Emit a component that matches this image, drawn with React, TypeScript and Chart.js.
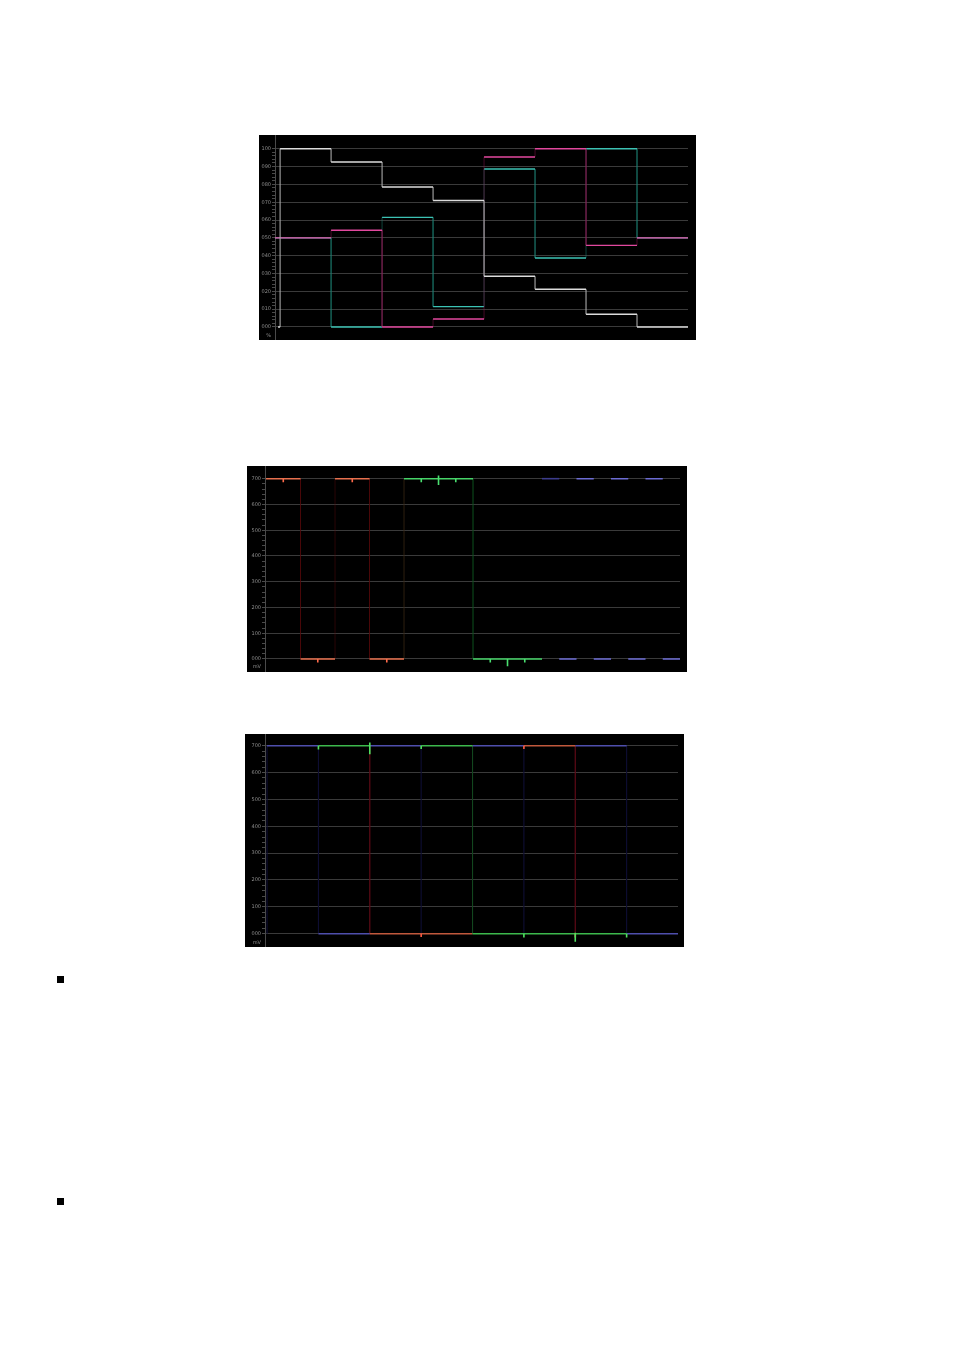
import React, { useEffect, useRef } from "react";
import { Chart, registerables } from "chart.js";
Chart.register(...registerables);

// ---------- Chart 1 : component step pattern (%) ----------
const P_WHITE_EDGES = [-0.04, 0, 1, 2, 3, 4, 5, 6, 7, 8];
const P_WHITE = [0, 100, 92.5, 78.5, 71, 28.4, 21.2, 7.1, 0];
const P_COLOR_EDGES = [-0.1, 1, 2, 3, 4, 5, 6, 7, 8];
const P_MAGENTA = [50, 54.3, 0, 4.5, 95.4, 100, 45.8, 50];
const P_CYAN = [50, 0, 61.5, 11.4, 88.6, 38.7, 100, 50];
const P_MAJOR = [100, 90, 80, 70, 60, 50, 40, 30, 20, 10, 0];
const P_LABELS = ["100", "090", "080", "070", "060", "050", "040", "030", "020", "010", "000"];
const P_UNIT = "%";

// ---------- Chart 2 : RGB parade (mV) ----------
const MV_RED_EDGES = [0, 2, 4, 6, 8];
const MV_RED = [700, 0, 700, 0];
const MV_GREEN_EDGES = [8, 12, 16];
const MV_GREEN = [700, 0];
const MV_BLUE_EDGES = [16, 17, 18, 19, 20, 21, 22, 23, 24];
const MV_BLUE = [700, 0, 700, 0, 700, 0, 700, 0];
const MV_RED_SPIKES = [[1, 700, 686], [3, 0, -14], [5, 700, 686], [7, 0, -14]];
const MV_GREEN_SPIKES = [[9, 700, 686], [10, 712, 676], [11, 700, 686], [13, 0, -14], [14, 0, -28], [15, 0, -14]];
const MV_MAJOR = [700, 600, 500, 400, 300, 200, 100, 0];
const MV_LABELS = ["700", "600", "500", "400", "300", "200", "100", "000"];
const MV_UNIT = "mV";

// ---------- Chart 3 : RGB overlay (mV) ----------
const C3_BLUE_RUNS = [[0, 1, 700], [1, 2, 0], [2, 3, 700], [4, 5, 700], [6, 7, 700], [7, 8, 0]];
const C3_GREEN_RUNS = [[1, 2, 700], [3, 4, 700], [4, 7, 0]];
const C3_RED_RUNS = [[2, 4, 0], [5, 6, 700]];
const C3_BLUE_EDGES = [0, 1, 3, 5, 7];
const C3_RED_EDGES = [2, 6];
const C3_GREEN_EDGES = [4];
const C3_GREEN_SPIKES = [[1, 700, 686], [2, 712, 668], [3, 700, 688], [5, 0, -14], [6, 4, -30], [7, 0, -14]];
const C3_RED_SPIKES = [[5, 700, 688], [3, 0, -12], [6, 0, -14]];

type Run = number[];

const stepRuns = (edges: number[], levels: number[]): Run[] =>
  levels.map((v, i) => [edges[i], edges[i + 1], v]);

const autoVerts = (runs: Run[]): number[][] => {
  const out: number[][] = [];
  for (let i = 1; i < runs.length; i++) {
    if (runs[i - 1][1] === runs[i][0]) out.push([runs[i][0], runs[i - 1][2], runs[i][2]]);
  }
  return out;
};

const runsData = (runs: Run[]) =>
  runs.flatMap(([a, b, y]) => [{ x: a, y }, { x: b, y }, { x: b, y: null }]);

const vertData = (v: number[][]) =>
  v.flatMap(([x, y0, y1]) => [{ x, y: y0 }, { x, y: y1 }, { x, y: null }]);

const ds = (data: any[], color: string, width: number) => ({
  data,
  borderColor: color,
  borderWidth: width,
  pointRadius: 0,
  tension: 0,
  fill: false,
  spanGaps: false,
});

interface WaveProps {
  left: number;
  top: number;
  width: number;
  height: number;
  axisWidth: number;
  padRight: number;
  xMin: number;
  xMax: number;
  yMin: number;
  yMax: number;
  minorStep: number;
  major: number[];
  labels: string[];
  unit: string;
  unitValue: number;
  datasets: any[]; // top-most first
}

function WaveChart(p: WaveProps) {
  const ref = useRef<HTMLCanvasElement | null>(null);
  useEffect(() => {
    if (!ref.current) return;
    const tickValues: number[] = [p.unitValue];
    const top = p.major[0];
    for (let v = 0; v <= top + 1e-9; v += p.minorStep) tickValues.push(Math.round(v * 100) / 100);
    const isMajor = (v: number) => p.major.indexOf(v) >= 0;
    const datasets = p.datasets.map((d, i) => ({ ...d, order: i }));
    const chart = new Chart(ref.current, {
      type: "line",
      data: { datasets },
      options: {
        animation: false,
        responsive: false,
        maintainAspectRatio: false,
        events: [],
        layout: { padding: { left: 0, right: p.padRight, top: 0, bottom: 0 } },
        plugins: { legend: { display: false }, tooltip: { enabled: false }, title: { display: false } },
        scales: {
          x: { type: "linear", min: p.xMin, max: p.xMax, display: false },
          y: {
            type: "linear",
            position: "left",
            min: p.yMin,
            max: p.yMax,
            afterBuildTicks: (s: any) => {
              s.ticks = tickValues.map((v) => ({ value: v }));
            },
            afterFit: (s: any) => {
              s.width = p.axisWidth;
              s.paddingTop = 0;
              s.paddingBottom = 0;
            },
            ticks: {
              autoSkip: false,
              color: "#8e8e8e",
              padding: 1,
              font: { size: 5, family: "DejaVu Sans" },
              callback: (v: any) => {
                if (v === p.unitValue) return p.unit;
                const i = p.major.indexOf(v);
                return i >= 0 ? p.labels[i] : "";
              },
            },
            grid: {
              color: (c: any) => (c.tick && isMajor(c.tick.value) ? "#3a3a3a" : "rgba(0,0,0,0)"),
              tickColor: (c: any) => (c.tick && c.tick.value === p.unitValue ? "rgba(0,0,0,0)" : "#4a4a4a"),
              tickLength: 3,
              lineWidth: 1,
            },
            border: { display: true, color: "#4a4a4a", width: 1 },
          },
        },
      },
    });
    return () => chart.destroy();
  }, []);
  return (
    <canvas
      ref={ref}
      width={p.width}
      height={p.height}
      style={{ position: "absolute", left: p.left - 8, top: p.top - 8, width: p.width, height: p.height, background: "#000", display: "block" }}
    />
  );
}

// ---------- build datasets ----------
const pWhiteRuns = stepRuns(P_WHITE_EDGES, P_WHITE);
const pMagRuns = stepRuns(P_COLOR_EDGES, P_MAGENTA);
const pCyanRuns = stepRuns(P_COLOR_EDGES, P_CYAN);
const chart1Sets = [
  ds(runsData(pWhiteRuns), "#dcdcdc", 1.5),
  ds(vertData(autoVerts(pWhiteRuns)), "#a8a8a8", 1.1),
  ds(runsData(pMagRuns), "#e2489e", 1.4),
  ds(vertData(autoVerts(pMagRuns)), "rgba(150,20,85,0.45)", 1),
  ds(runsData(pCyanRuns), "#3cc2b4", 1.4),
  ds(vertData(autoVerts(pCyanRuns)), "rgba(30,130,115,0.5)", 1),
];

const mvRedRuns = stepRuns(MV_RED_EDGES, MV_RED);
const mvGreenRuns = stepRuns(MV_GREEN_EDGES, MV_GREEN);
const mvBlueRuns = stepRuns(MV_BLUE_EDGES, MV_BLUE);
const chart2Sets = [
  ds(vertData(MV_RED_SPIKES), "#ff6a4a", 1.6),
  ds(vertData(MV_GREEN_SPIKES), "#4ae070", 1.6),
  ds(runsData(mvRedRuns), "#e8704e", 1.6),
  ds(runsData(mvGreenRuns), "#46d468", 1.6),
  ds(runsData(mvBlueRuns.slice(1)), "#6c6cd4", 1.6),
  ds(runsData(mvBlueRuns.slice(0, 1)), "#3c3c8c", 1.6),
  ds(vertData(autoVerts(mvRedRuns).concat([[8, 0, 700]])), "rgba(90,10,14,0.45)", 1),
  ds(vertData(autoVerts(mvGreenRuns).concat([[8, 0, 700]])), "rgba(16,80,30,0.45)", 1),
];

const chart3Sets = [
  ds(vertData(C3_GREEN_SPIKES), "#50e060", 1.6),
  ds(vertData(C3_RED_SPIKES), "#ff5a40", 1.6),
  ds(runsData(C3_GREEN_RUNS), "#3cb84c", 1.6),
  ds(runsData(C3_RED_RUNS), "#c0583c", 1.6),
  ds(runsData(C3_BLUE_RUNS), "#4e4eac", 1.6),
  ds(vertData(C3_RED_EDGES.map((x) => [x, 0, 700])), "#5e0a16", 1.2),
  ds(vertData(C3_GREEN_EDGES.map((x) => [x, 0, 700])), "#12461e", 1.1),
  ds(vertData(C3_BLUE_EDGES.map((x) => [x, 0, 700])), "#0e0e34", 1.1),
];

export default function App() {
  return (
    <div style={{ position: "relative", width: 938, height: 1335 }}>
      <WaveChart
        left={259} top={135} width={437} height={205}
        axisWidth={16} padRight={8}
        xMin={-0.1} xMax={8} yMin={-7.3} yMax={107.7}
        minorStep={2} major={P_MAJOR} labels={P_LABELS}
        unit={P_UNIT} unitValue={-4.7}
        datasets={chart1Sets}
      />
      <WaveChart
        left={247} top={466} width={440} height={206}
        axisWidth={18} padRight={7}
        xMin={-0.06} xMax={24} yMin={-50.5} yMax={749.3}
        minorStep={20} major={MV_MAJOR} labels={MV_LABELS}
        unit={MV_UNIT} unitValue={-31}
        datasets={chart2Sets}
      />
      <WaveChart
        left={245} top={734} width={439} height={213}
        axisWidth={20} padRight={6}
        xMin={-0.04} xMax={8} yMin={-49.5} yMax={743.6}
        minorStep={20} major={MV_MAJOR} labels={MV_LABELS}
        unit={MV_UNIT} unitValue={-32}
        datasets={chart3Sets}
      />
      <div style={{ position: "absolute", left: 57 - 8, top: 976 - 8, width: 7, height: 7, background: "#000" }} />
      <div style={{ position: "absolute", left: 57 - 8, top: 1198 - 8, width: 7, height: 7, background: "#000" }} />
    </div>
  );
}
